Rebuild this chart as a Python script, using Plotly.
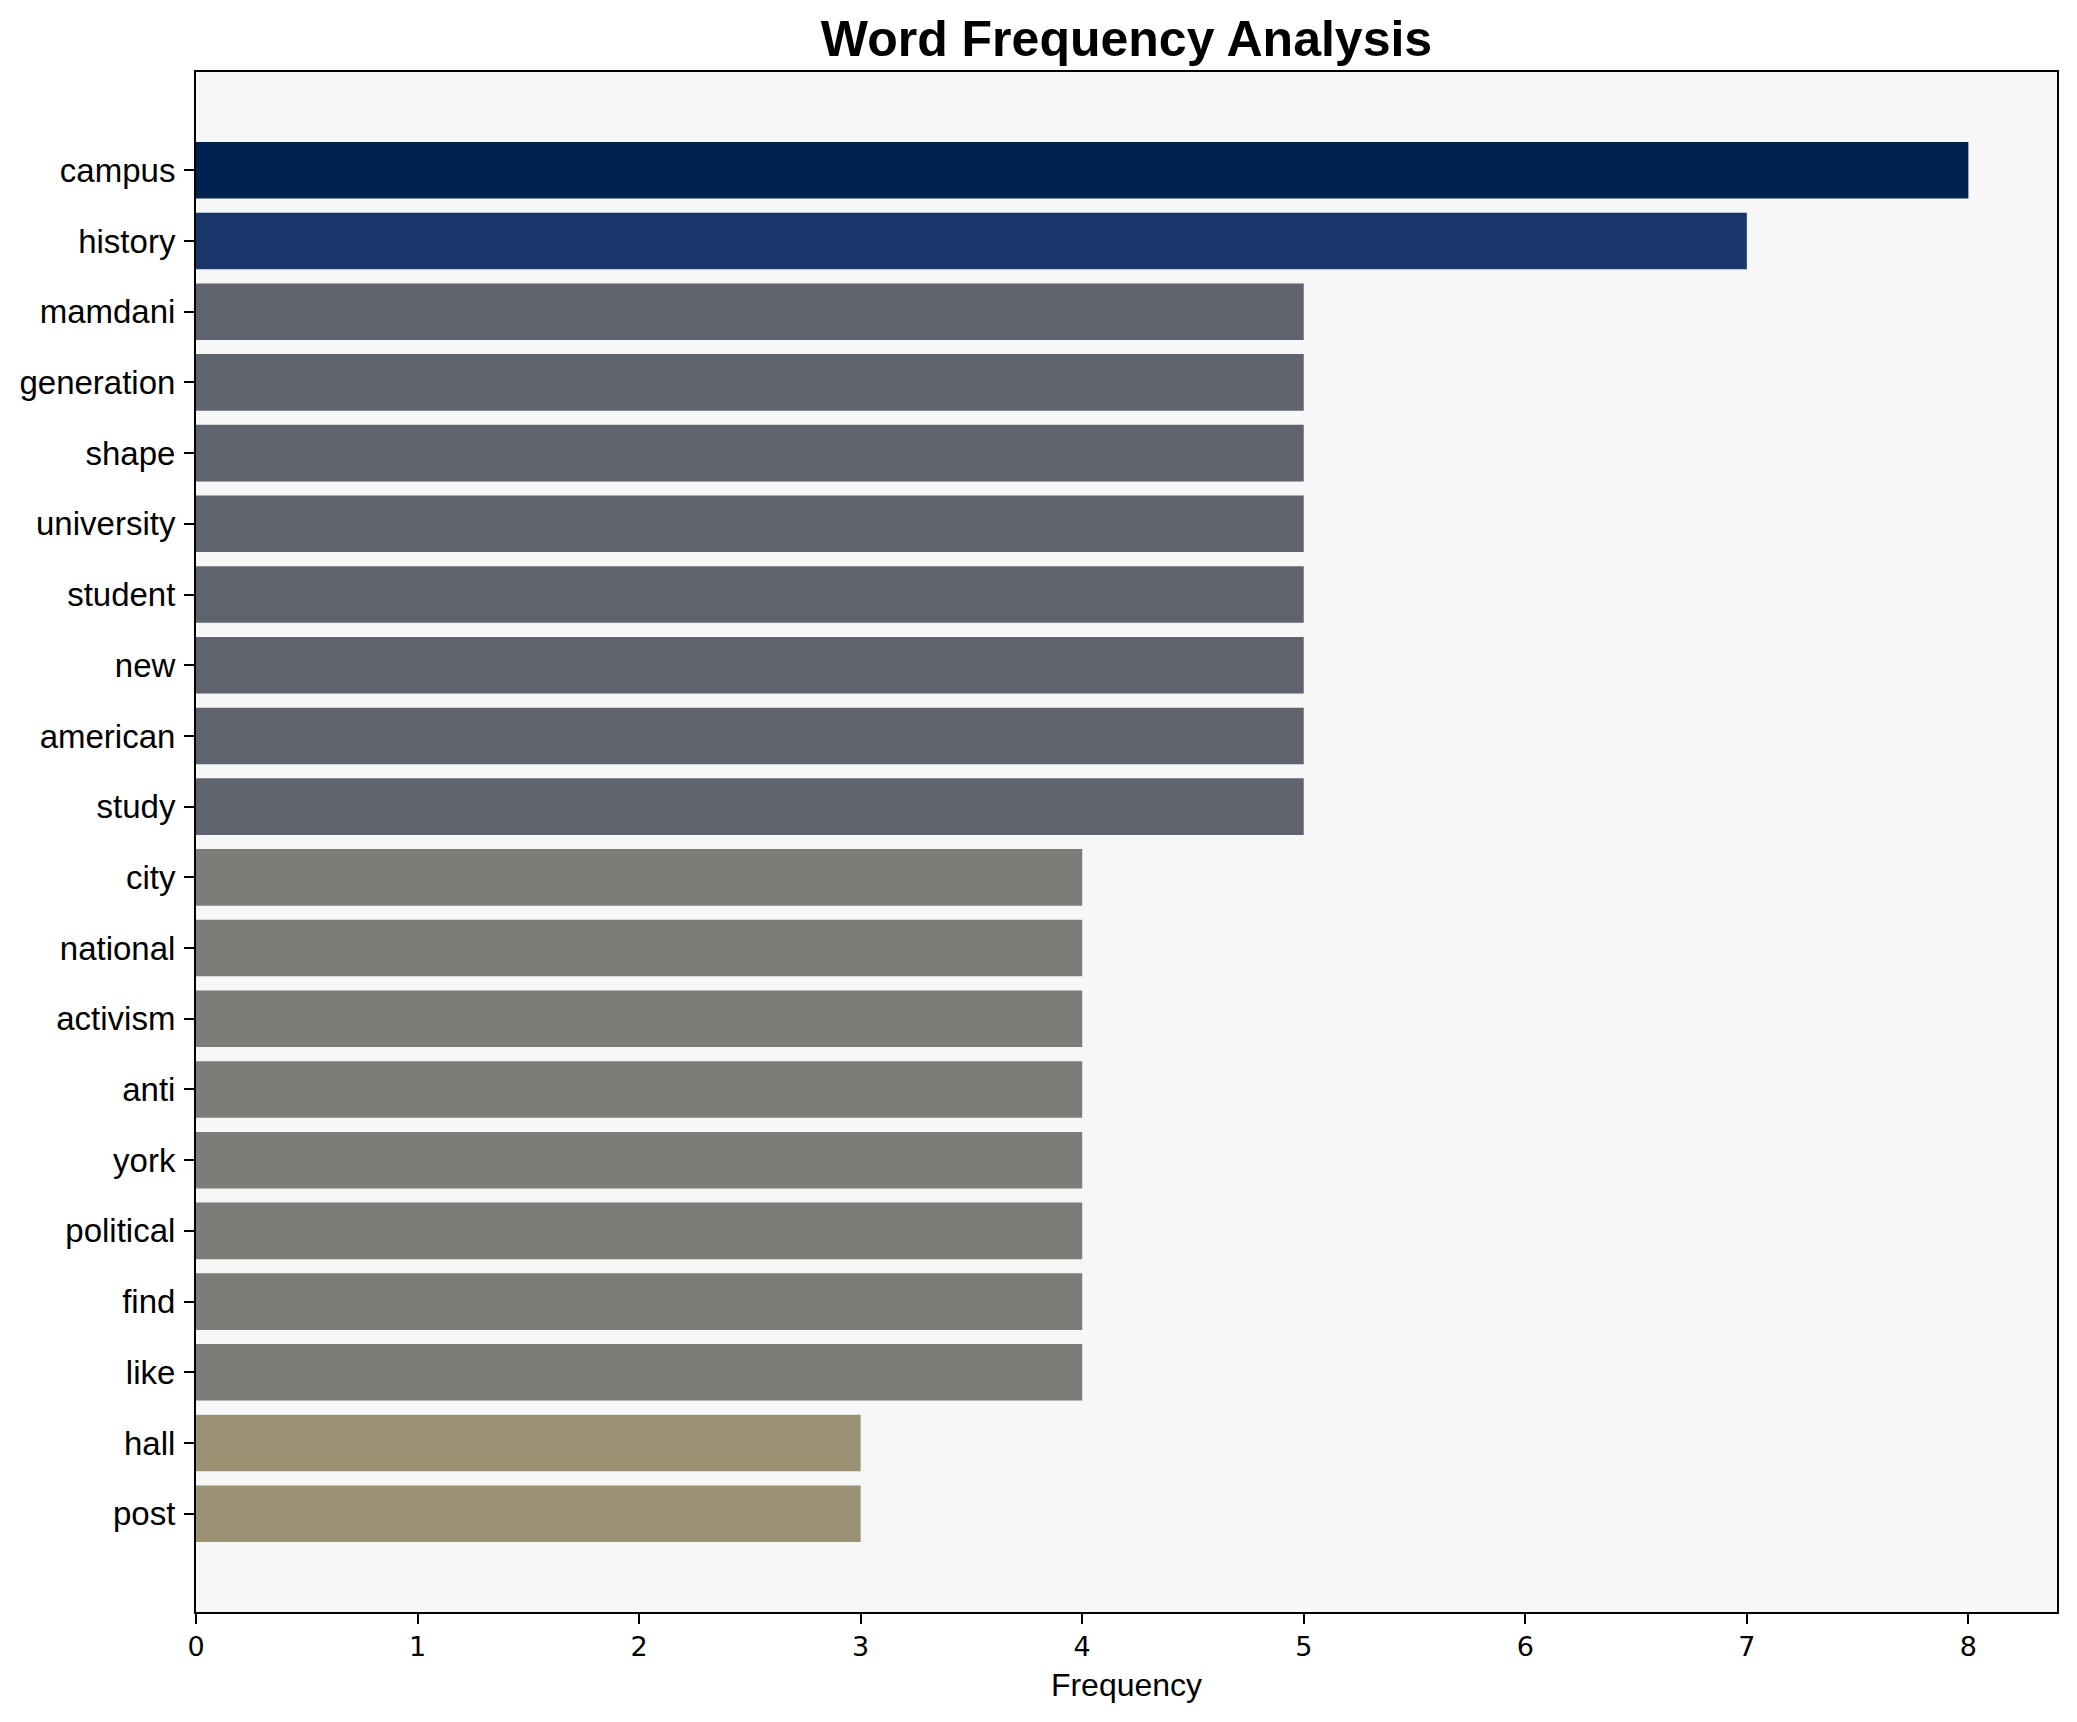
import plotly.graph_objects as go

words = ["campus", "history", "mamdani", "generation", "shape", "university",
         "student", "new", "american", "study", "city", "national", "activism",
         "anti", "york", "political", "find", "like", "hall", "post"]
freqs = [8, 7, 5, 5, 5, 5, 5, 5, 5, 5, 4, 4, 4, 4, 4, 4, 4, 4, 3, 3]
x_ticks = [0, 1, 2, 3, 4, 5, 6, 7, 8]

color_by_value = {8: "#00224e", 7: "#19366b", 5: "#5f636e", 4: "#7d7c78", 3: "#9a9272"}
bar_colors = [color_by_value[v] for v in freqs]

OFF = 8  # page body margin
W, H = 2077 - OFF, 1722 - OFF
L, R, T, B = 196 - OFF, 2057 - OFF, 72 - OFF, 1612 - OFF

fig = go.Figure()
fig.add_trace(go.Bar(
    x=freqs, y=words, orientation="h",
    marker=dict(color=bar_colors, line=dict(width=0)),
    width=0.8, hoverinfo="x+y",
))

n = len(words)
span = (n - 1) + 0.8
pad = 0.05 * span

fig.update_layout(
    width=W, height=H,
    margin=dict(l=L, r=W - R, t=T, b=H - B, pad=0),
    paper_bgcolor="white",
    plot_bgcolor="#f7f7f7",
    showlegend=False,
    title=dict(text="<b>Word Frequency Analysis</b>", x=0.5, xref="paper",
               y=1 - (38 - OFF) / H, yref="container", yanchor="middle", xanchor="center",
               font=dict(family="Liberation Sans, Arial", size=50, color="black")),
    xaxis=dict(
        range=[0, 8.4], tickvals=x_ticks, ticktext=[str(v) for v in x_ticks],
        ticks="outside", ticklen=10, tickwidth=2, tickcolor="black",
        showgrid=False, zeroline=False,
        showline=True, mirror=True, linecolor="black", linewidth=2,
        tickfont=dict(family="DejaVu Sans", size=27, color="black"),
        ticklabelstandoff=0,
        title=dict(text="Frequency", standoff=12,
                   font=dict(family="Liberation Sans, Arial", size=32, color="black")),
    ),
    yaxis=dict(
        type="category", categoryorder="array", categoryarray=words,
        range=[n - 1 + 0.4 + pad, -0.4 - pad],
        ticks="outside", ticklen=10, tickwidth=2, tickcolor="black",
        showgrid=False, zeroline=False,
        showline=True, mirror=True, linecolor="black", linewidth=2,
        ticklabelstandoff=2,
        tickfont=dict(family="Liberation Sans, Arial", size=33, color="black"),
    ),
)

fig.write_html("out.html")
